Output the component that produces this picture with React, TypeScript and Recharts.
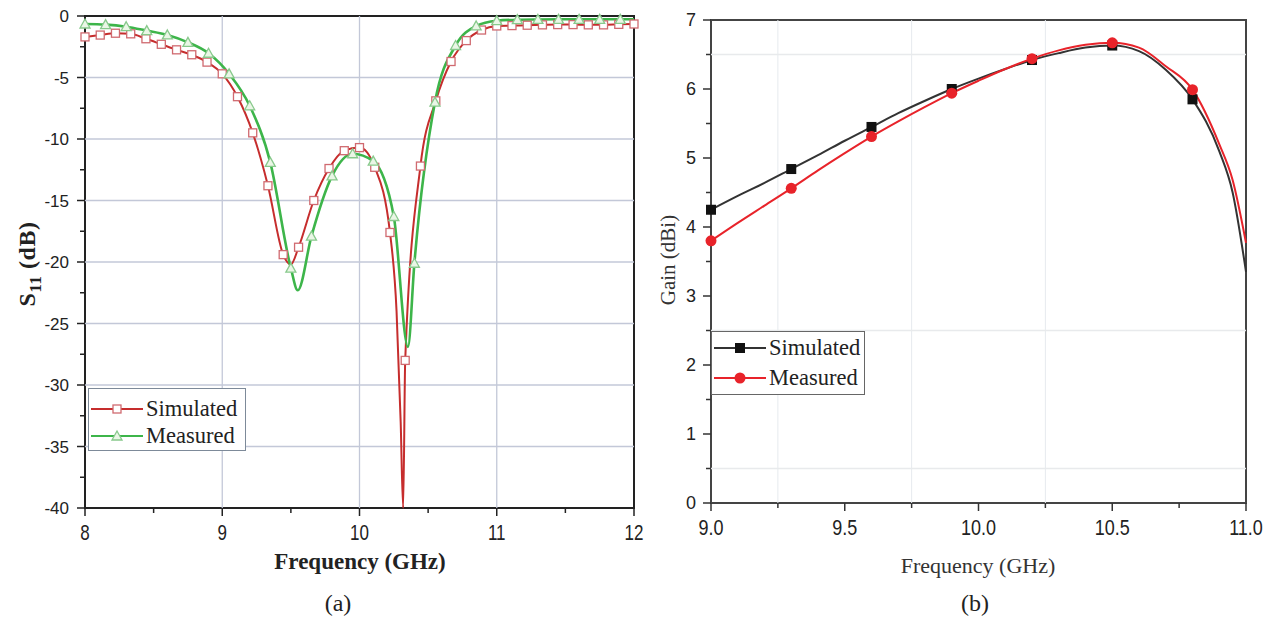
import React from "react";
import { LineChart, Line, XAxis, YAxis, ReferenceLine, ReferenceArea } from "recharts";

// ---- (a) S11 vs frequency ----
const simFreqA = [
  8.0, 8.111, 8.222, 8.333, 8.444, 8.556, 8.667, 8.778, 8.889, 9.0,
  9.111, 9.222, 9.333, 9.444, 9.5, 9.556, 9.667, 9.778, 9.889, 10.0,
  10.111, 10.222, 10.27, 10.3, 10.318, 10.333, 10.444, 10.556, 10.667, 10.778,
  10.889, 11.0, 11.111, 11.222, 11.333, 11.444, 11.556, 11.667, 11.778, 11.889, 12.0,
];
const simS11 = [
  -1.7, -1.55, -1.4, -1.45, -1.85, -2.3, -2.75, -3.15, -3.75, -4.7,
  -6.56, -9.5, -13.8, -19.4, -20.2, -18.8, -15.0, -12.4, -10.95, -10.7,
  -12.3, -17.6, -24, -33, -40, -28, -12.2, -6.9, -3.7, -2.0,
  -1.14, -0.81, -0.78, -0.75, -0.72, -0.7, -0.7, -0.72, -0.72, -0.68, -0.65,
];
const measFreqA = [
  8.0, 8.15, 8.3, 8.45, 8.6, 8.75, 8.9, 9.05, 9.2, 9.35,
  9.5, 9.55, 9.65, 9.8, 9.95, 10.1, 10.25, 10.353, 10.4, 10.55,
  10.7, 10.85, 11.0, 11.15, 11.3, 11.45, 11.6, 11.75, 11.9, 12.0,
];
const measS11 = [
  -0.65, -0.7, -0.87, -1.19, -1.54, -2.14, -3.03, -4.7, -7.3, -11.9,
  -20.5, -22.3, -17.9, -13.0, -11.2, -11.8, -16.3, -26.9, -20.1, -7.0,
  -2.4, -0.81, -0.38, -0.3, -0.28, -0.27, -0.27, -0.27, -0.27, -0.27,
];
const xMajorA = [8, 9, 10, 11, 12];
const xMinorA = [8.5, 9.5, 10.5, 11.5];
const yMajorA = [0, -5, -10, -15, -20, -25, -30, -35, -40];
const yMinorA = [-2.5, -7.5, -12.5, -17.5, -22.5, -27.5, -32.5, -37.5];

// ---- (b) gain vs frequency ----
const freqB = [
  9.0, 9.1, 9.2, 9.3, 9.4, 9.5, 9.6, 9.7, 9.8, 9.9, 10.0,
  10.1, 10.2, 10.3, 10.4, 10.5, 10.6, 10.7, 10.8, 10.9, 10.95, 11.0,
];
const simGain = [
  4.25, 4.45, 4.64, 4.84, 5.04, 5.25, 5.45, 5.65, 5.83, 6.0, 6.15,
  6.29, 6.42, 6.52, 6.6, 6.63, 6.55, 6.28, 5.85, 5.1, 4.5, 3.35,
];
const measGain = [
  3.8, 4.06, 4.31, 4.56, 4.82, 5.07, 5.31, 5.53, 5.74, 5.94, 6.12,
  6.29, 6.44, 6.56, 6.64, 6.67, 6.6, 6.33, 5.99, 5.2, 4.68, 3.77,
];
const xMajorB = [9.0, 9.5, 10.0, 10.5, 11.0];
const xMinorB = [9.25, 9.75, 10.25, 10.75];
const yMajorB = [0, 1, 2, 3, 4, 5, 6, 7];
const yMinorB = [0.5, 1.5, 2.5, 3.5, 4.5, 5.5, 6.5];

const SANS = "'Liberation Sans', Arial, sans-serif";
const SERIF = "'Liberation Serif', 'Times New Roman', serif";

const zip = (xs: number[], ys: number[]) => xs.map((f, i) => ({ f, v: ys[i] }));
const isOn = (v: number, list: number[]) => list.some((m) => Math.abs(m - v) < 1e-6);

function xTick(majors: number[], fmt: (v: number) => string, size: number, color: string, dy: number, stretch: number) {
  return (p: any) => {
    const major = isOn(p.payload.value, majors);
    return (
      <g>
        <line x1={p.x} y1={p.y} x2={p.x} y2={p.y + (major ? 8 : 5)} stroke={color} strokeWidth={1.5} />
        {major && (
          <g transform={`translate(${p.x},${p.y + dy}) scale(1,${stretch})`}>
            <text x={0} y={0} textAnchor="middle" fontSize={size} fontFamily={SANS} fill="#222">
              {fmt(p.payload.value)}
            </text>
          </g>
        )}
      </g>
    );
  };
}

function yTick(majors: number[], size: number, color: string, gap: number) {
  return (p: any) => {
    const major = isOn(p.payload.value, majors);
    return (
      <g>
        <line x1={p.x} y1={p.y} x2={p.x - (major ? 8 : 5)} y2={p.y} stroke={color} strokeWidth={1.5} />
        {major && (
          <text x={p.x - gap} y={p.y + 6} textAnchor="end" fontSize={size} fontFamily={SANS} fill="#222">
            {p.payload.value}
          </text>
        )}
      </g>
    );
  };
}

// marker only where the point sits on the sampling grid
const onGrid = (f: number, start: number, step: number) => {
  const k = (f - start) / step;
  return Math.abs(k - Math.round(k)) < 0.02;
};

const squareOpen = (p: any) =>
  onGrid(p.payload.f, 8, 1 / 9) ? (
    <rect key={p.index} x={p.cx - 4} y={p.cy - 4} width={8} height={8} fill="#fff" stroke="#d06a70" strokeWidth={1.3} />
  ) : (
    <g key={p.index} />
  );

const triOpen = (p: any) =>
  onGrid(p.payload.f, 8, 0.15) ? (
    <path
      key={p.index}
      d={`M${p.cx},${p.cy - 5} L${p.cx + 5},${p.cy + 4} L${p.cx - 5},${p.cy + 4} Z`}
      fill="#eaf6e6"
      stroke="#88c98c"
      strokeWidth={1.3}
    />
  ) : (
    <g key={p.index} />
  );

const squareFill = (p: any) =>
  onGrid(p.payload.f, 9, 0.3) && p.payload.f < 10.85 ? (
    <rect key={p.index} x={p.cx - 5} y={p.cy - 5} width={10} height={10} fill="#111" />
  ) : (
    <g key={p.index} />
  );

const circleFill = (p: any) =>
  onGrid(p.payload.f, 9, 0.3) && p.payload.f < 10.85 ? (
    <circle key={p.index} cx={p.cx} cy={p.cy} r={5.5} fill="#e8232a" />
  ) : (
    <g key={p.index} />
  );

function LegendBox(props: { left: number; top: number; w: number; h: number; rows: { label: string; color: string; mark: React.ReactNode }[]; border: string; rowGap: number; first: number }) {
  return (
    <div
      style={{
        position: "absolute",
        left: props.left,
        top: props.top,
        width: props.w,
        height: props.h,
        border: `1px solid ${props.border}`,
        background: "#fff",
        boxSizing: "border-box",
      }}
    >
      {props.rows.map((r, i) => (
        <div key={r.label} style={{ position: "absolute", left: 0, top: props.first + i * props.rowGap - 13, height: 26, display: "flex", alignItems: "center" }}>
          <svg width={56} height={26} style={{ display: "block" }}>
            <line x1={2} y1={13} x2={54} y2={13} stroke={r.color} strokeWidth={2.2} />
            {r.mark}
          </svg>
          <span style={{ fontFamily: SERIF, fontSize: 22.5, color: "#222", marginLeft: 1, whiteSpace: "nowrap" }}>{r.label}</span>
        </div>
      ))}
    </div>
  );
}

export default function App() {
  const simA = zip(simFreqA, simS11);
  const measA = zip(measFreqA, measS11);
  const simB = zip(freqB, simGain);
  const measB = zip(freqB, measGain);
  const ticksXA = [...xMajorA, ...xMinorA].sort((a, b) => a - b);
  const ticksYA = [...yMajorA, ...yMinorA].sort((a, b) => a - b);
  const ticksXB = [...xMajorB, ...xMinorB].sort((a, b) => a - b);
  const ticksYB = [...yMajorB, ...yMinorB].sort((a, b) => a - b);

  return (
    <div style={{ position: "absolute", left: 0, top: 0, width: 1273, height: 619, background: "#fff" }}>
      {/* (a) */}
      <div style={{ position: "absolute", left: 0, top: 0 }}>
        <LineChart width={650} height={619} margin={{ top: 16, right: 16, bottom: 81, left: 0 }}>
          <XAxis dataKey="f" type="number" domain={[8, 12]} ticks={ticksXA} tickSize={0} tickMargin={0} height={30}
            axisLine={false} tick={xTick(xMajorA, (v) => String(v), 17, "#222", 32, 1.35)} />
          <YAxis type="number" domain={[-40, 0]} ticks={ticksYA} tickSize={0} tickMargin={0} width={85}
            axisLine={false} tick={yTick(yMajorA, 17, "#222", 16)} />
          {xMajorA.slice(1, -1).map((v) => (
            <ReferenceLine key={`gx${v}`} x={v} stroke="#c3c8d8" strokeWidth={1.3} />
          ))}
          {yMajorA.slice(1, -1).map((v) => (
            <ReferenceLine key={`gy${v}`} y={v} stroke="#c3c8d8" strokeWidth={1.3} />
          ))}
          <ReferenceArea x1={8} x2={12} y1={-40} y2={0} fill="none" stroke="#222" strokeWidth={2} />
          <Line data={simA} dataKey="v" type="monotone" stroke="#c62d2d" strokeWidth={2} dot={squareOpen} isAnimationActive={false} />
          <Line data={measA} dataKey="v" type="monotone" stroke="#3db54a" strokeWidth={2.6} dot={triOpen} isAnimationActive={false} />
        </LineChart>
      </div>
      <div style={{ position: "absolute", left: 30, top: 264, transform: "translate(-50%, -50%) rotate(-90deg)", fontFamily: SERIF, fontWeight: "bold", fontSize: 24, letterSpacing: 0.5, color: "#222", whiteSpace: "nowrap" }}>
        S<sub style={{ fontSize: 17 }}>11</sub> (dB)
      </div>
      <div style={{ position: "absolute", left: 360, top: 562, transform: "translate(-50%, -50%)", fontFamily: SERIF, fontWeight: "bold", fontSize: 23, color: "#222", whiteSpace: "nowrap" }}>
        Frequency (GHz)
      </div>
      <div style={{ position: "absolute", left: 338, top: 603, transform: "translate(-50%, -50%)", fontFamily: SERIF, fontSize: 24, color: "#222" }}>
        (a)
      </div>
      <LegendBox left={88} top={388} w={158} h={63} border="#7d8a99" first={20} rowGap={27}
        rows={[
          { label: "Simulated", color: "#c62d2d", mark: <rect x={24} y={9} width={8} height={8} fill="#fff" stroke="#d06a70" strokeWidth={1.3} /> },
          { label: "Measured", color: "#3db54a", mark: <path d="M28,8 L33,17 L23,17 Z" fill="#eaf6e6" stroke="#88c98c" strokeWidth={1.3} /> },
        ]} />

      {/* (b) */}
      <div style={{ position: "absolute", left: 650, top: 0 }}>
        <LineChart width={623} height={619} margin={{ top: 20, right: 27, bottom: 86, left: 0 }}>
          <XAxis dataKey="f" type="number" domain={[9, 11]} ticks={ticksXB} tickSize={0} tickMargin={0} height={30}
            axisLine={false} tick={xTick(xMajorB, (v) => v.toFixed(1), 18, "#333", 32, 1.25)} />
          <YAxis type="number" domain={[0, 7]} ticks={ticksYB} tickSize={0} tickMargin={0} width={61}
            axisLine={false} tick={yTick(yMajorB, 18, "#333", 15)} />
          {xMinorB.slice(0, 3).map((v) => (
            <ReferenceLine key={`gx${v}`} x={v} stroke="#e6eaee" strokeWidth={1} />
          ))}
          {[6.5, 2.5, 0.5].map((v) => (
            <ReferenceLine key={`gy${v}`} y={v} stroke="#e8eaec" strokeWidth={1.5} />
          ))}
          <ReferenceArea x1={9} x2={11} y1={0} y2={7} fill="none" stroke="#444" strokeWidth={2} />
          <Line data={simB} dataKey="v" type="monotone" stroke="#333" strokeWidth={2} dot={squareFill} isAnimationActive={false} />
          <Line data={measB} dataKey="v" type="monotone" stroke="#e8232a" strokeWidth={2} dot={circleFill} isAnimationActive={false} />
        </LineChart>
      </div>
      <div style={{ position: "absolute", left: 668, top: 260, transform: "translate(-50%, -50%) rotate(-90deg)", fontFamily: SERIF, fontSize: 21, color: "#333", whiteSpace: "nowrap" }}>
        Gain (dBi)
      </div>
      <div style={{ position: "absolute", left: 978, top: 566, transform: "translate(-50%, -50%)", fontFamily: SERIF, fontSize: 22, color: "#333", whiteSpace: "nowrap" }}>
        Frequency (GHz)
      </div>
      <div style={{ position: "absolute", left: 975, top: 603, transform: "translate(-50%, -50%)", fontFamily: SERIF, fontSize: 24, color: "#222" }}>
        (b)
      </div>
      <LegendBox left={711} top={331} w={154} h={64} border="#666" first={16} rowGap={30}
        rows={[
          { label: "Simulated", color: "#333", mark: <rect x={23} y={8} width={10} height={10} fill="#111" /> },
          { label: "Measured", color: "#e8232a", mark: <circle cx={28} cy={13} r={5.5} fill="#e8232a" /> },
        ]} />
    </div>
  );
}
